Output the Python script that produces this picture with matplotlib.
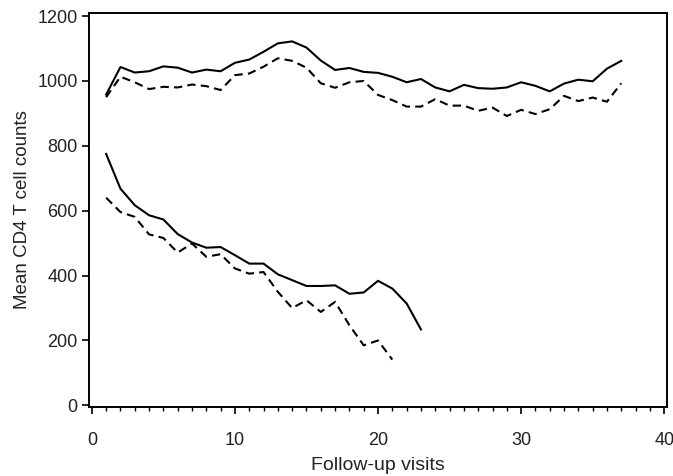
import matplotlib
matplotlib.use("Agg")
import matplotlib.pyplot as plt
from matplotlib.ticker import MultipleLocator

# mean CD4 counts per follow-up visit
upper_solid = [958, 1043, 1026, 1030, 1045, 1041, 1026, 1035, 1030, 1056, 1066, 1090,
               1116, 1122, 1103, 1063, 1034, 1040, 1028, 1025, 1013, 996, 1006, 980,
               968, 988, 978, 976, 980, 996, 985, 968, 992, 1004, 999, 1038, 1062]
upper_dashed = [950, 1013, 996, 975, 982, 980, 989, 984, 972, 1018, 1023, 1044,
                1070, 1062, 1041, 993, 979, 996, 1000, 957, 941, 921, 921, 944,
                924, 924, 908, 918, 892, 911, 898, 913, 954, 938, 949, 936, 993]
lower_solid = [775, 668, 617, 586, 573, 528, 502, 486, 488, 463, 437, 437,
               404, 386, 368, 368, 370, 344, 348, 384, 360, 314, 234]
lower_dashed = [640, 596, 581, 527, 516, 471, 499, 458, 466, 422, 406, 411,
                350, 300, 324, 288, 319, 247, 185, 200, 141]

plt.rcParams['font.family'] = ['Liberation Sans', 'DejaVu Sans']

fig = plt.figure(figsize=(6.73, 4.76), dpi=100)
ax = fig.add_axes([0.1322, 0.145, 0.859, 0.828])

dash = (0, (4, 2.5))
for vals, ls in [(upper_solid, '-'), (upper_dashed, dash),
                 (lower_solid, '-'), (lower_dashed, dash)]:
    visits = range(1, len(vals) + 1)
    ax.plot(visits, vals, color='black', lw=1.5, linestyle=ls)

ax.set_xlim(-0.2, 40.2)
ax.set_ylim(-5, 1210)
ax.xaxis.set_major_locator(MultipleLocator(10))
ax.xaxis.set_minor_locator(MultipleLocator(1))
ax.yaxis.set_major_locator(MultipleLocator(200))

ax.tick_params(axis='both', which='major', direction='out', length=5, width=1.2,
               labelsize=13, colors='black', labelcolor='#222222')
ax.tick_params(axis='x', which='minor', direction='out', length=3, width=1.0)
ax.tick_params(axis='x', pad=13)
ax.tick_params(axis='y', pad=3)
for sp in ax.spines.values():
    sp.set_linewidth(1.4)

ax.set_xlabel('Follow-up visits', fontsize=14, color='#222222', labelpad=6)
ax.set_ylabel('Mean CD4 T cell counts', fontsize=13.5, color='#222222', labelpad=5)

fig.savefig('out.png', dpi=100)
